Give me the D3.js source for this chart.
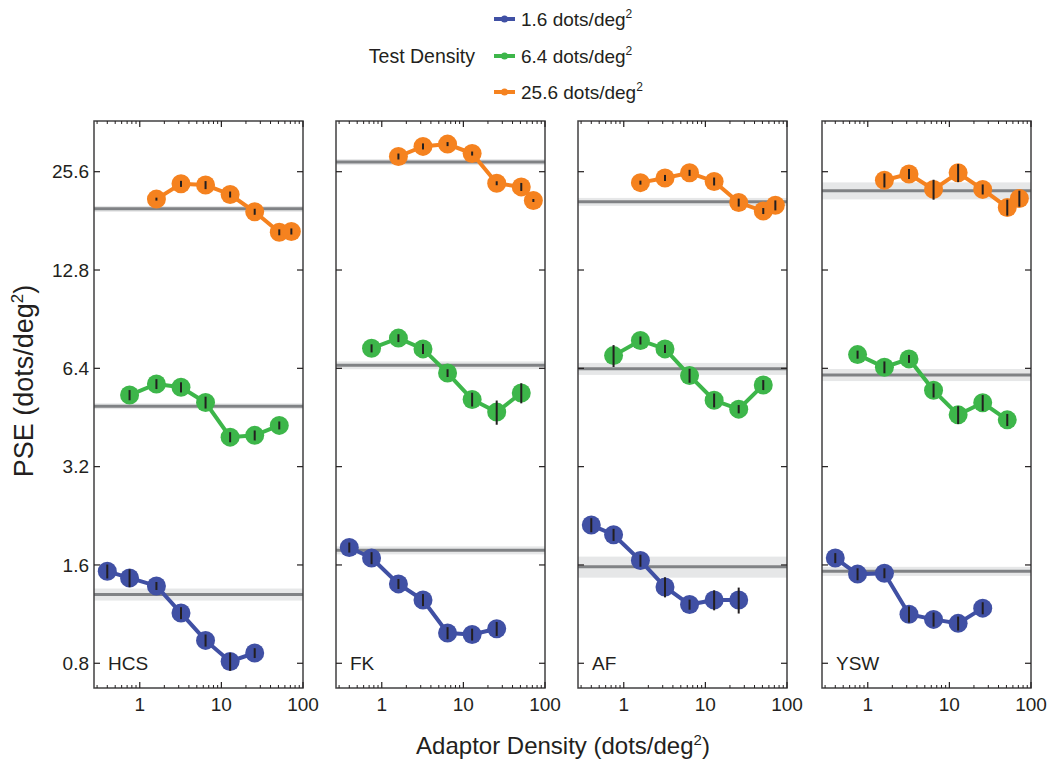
<!DOCTYPE html>
<html>
<head>
<meta charset="utf-8">
<script src="https://cdn.jsdelivr.net/npm/d3@7"></script>
<style>
  body { margin: 0; background: #fff; }
  svg text { font-family: "Liberation Sans", Arial, sans-serif; fill: #231f20; }
</style>
</head>
<body>
<div id="chart"></div>
<script>
// subjects, one panel each
var subjects = ["HCS", "FK", "AF", "YSW"];
var seriesNames = ["1.6", "6.4", "25.6"];
var seriesColors = ["#4050a4", "#3db64a", "#f5821f"];

// adaptor densities used for each test density
var adaptorBlue = [0.4, 0.75, 1.6, 3.2, 6.4, 12.8, 25.6];
var adaptorGreen = [0.75, 1.6, 3.2, 6.4, 12.8, 25.6, 51.2];
var adaptorOrange = [1.6, 3.2, 6.4, 12.8, 25.6, 51.2, 72];

// PSE values, per subject
var pseBlue = [
  [1.53, 1.46, 1.38, 1.14, 0.94, 0.81, 0.86],
  [1.81, 1.68, 1.40, 1.25, 0.99, 0.98, 1.02],
  [2.12, 1.98, 1.65, 1.37, 1.21, 1.25, 1.25],
  [1.68, 1.50, 1.51, 1.13, 1.09, 1.06, 1.18]
];
var pseGreen = [
  [5.30, 5.73, 5.60, 5.03, 3.94, 3.99, 4.28],
  [7.37, 7.92, 7.34, 6.19, 5.14, 4.70, 5.38],
  [7.00, 7.79, 7.34, 6.08, 5.11, 4.80, 5.69],
  [7.05, 6.45, 6.84, 5.48, 4.61, 5.02, 4.45]
];
var pseOrange = [
  [21.1, 23.5, 23.3, 21.8, 19.3, 16.7, 16.8],
  [28.5, 30.6, 31.1, 29.1, 23.6, 23.0, 20.9],
  [23.7, 24.5, 25.4, 23.9, 20.6, 19.4, 20.2],
  [24.1, 25.2, 22.6, 25.4, 22.6, 19.9, 21.2]
];

// error bar half-lengths (dots/deg2)
var errBlue = [
  [0.075, 0.092, 0.039, 0.048, 0.040, 0.051, 0.030],
  [0.064, 0.071, 0.049, 0.053, 0.042, 0.041, 0.050],
  [0.105, 0.084, 0.070, 0.097, 0.043, 0.088, 0.114],
  [0.059, 0.063, 0.053, 0.064, 0.054, 0.052, 0.050]
];
var errGreen = [
  [0.19, 0.20, 0.20, 0.21, 0.14, 0.14, 0.12],
  [0.21, 0.22, 0.26, 0.17, 0.25, 0.40, 0.38],
  [0.54, 0.22, 0.21, 0.30, 0.25, 0.14, 0.20],
  [0.20, 0.27, 0.19, 0.27, 0.29, 0.28, 0.19]
];
var errOrange = [
  [0.22, 0.50, 0.66, 0.46, 0.41, 0.35, 0.36],
  [0.60, 0.65, 0.44, 0.41, 0.33, 0.65, 0.22],
  [0.33, 0.52, 0.54, 0.67, 0.58, 0.41, 0.71],
  [1.19, 0.89, 1.59, 1.61, 0.80, 1.12, 1.20]
];

// baseline PSE (no adaptation) and its band half-width, per subject [blue, green, orange]
var baseline = [
  [1.30, 4.90, 19.7],
  [1.774, 6.54, 27.4],
  [1.58, 6.38, 20.7],
  [1.53, 6.11, 22.4]
];
var baselineBand = [
  [0.055, 0.10, 0.41],
  [0.05, 0.18, 0.58],
  [0.117, 0.27, 0.58],
  [0.049, 0.26, 1.34]
];

var yTicks = [0.8, 1.6, 3.2, 6.4, 12.8, 25.6];
var xTickLabels = [1, 10, 100];

var width = 1047, height = 762;
var panelLefts = [94, 336, 578, 822];
var panelW = 209, panelTop = 121, panelH = 567;

var svg = d3.select("#chart").append("svg")
  .attr("width", width)
  .attr("height", height);

var x = d3.scaleLog().domain([0.275, 100]).range([0, panelW]);
var y = d3.scaleLog().domain([0.672, 36.6]).range([panelH, 0]);

var minorTicks = [];
[0.1, 1, 10].forEach(function (dec) {
  for (var k = 2; k <= 9; k++) {
    var v = dec * k;
    if (v >= 0.275 && v <= 100) minorTicks.push(v);
  }
});
var majorTicks = [1, 10, 100];

subjects.forEach(function (name, p) {
  var g = svg.append("g")
    .attr("transform", "translate(" + panelLefts[p] + "," + panelTop + ")");

  // baseline bands + lines
  for (var s = 0; s < 3; s++) {
    g.append("rect")
      .attr("x", 0)
      .attr("width", panelW)
      .attr("y", y(baseline[p][s] + baselineBand[p][s]))
      .attr("height", y(baseline[p][s] - baselineBand[p][s]) - y(baseline[p][s] + baselineBand[p][s]))
      .style("fill", "#e6e7e8");
    g.append("line")
      .attr("x1", 0).attr("x2", panelW)
      .attr("y1", y(baseline[p][s])).attr("y2", y(baseline[p][s]))
      .style("stroke", "#808285")
      .style("stroke-width", 3);
  }

  var series = [
    { xs: adaptorBlue, ys: pseBlue[p], es: errBlue[p], c: seriesColors[0] },
    { xs: adaptorGreen, ys: pseGreen[p], es: errGreen[p], c: seriesColors[1] },
    { xs: adaptorOrange, ys: pseOrange[p], es: errOrange[p], c: seriesColors[2] }
  ];

  series.forEach(function (sr) {
    var pts = sr.xs.map(function (d, i) { return { x: d, y: sr.ys[i], e: sr.es[i] }; });
    var line = d3.line()
      .x(function (d) { return x(d.x); })
      .y(function (d) { return y(d.y); });
    g.append("path")
      .datum(pts)
      .attr("d", line)
      .style("fill", "none")
      .style("stroke", sr.c)
      .style("stroke-width", 4);
    g.selectAll(null)
      .data(pts)
      .enter().append("circle")
      .attr("cx", function (d) { return x(d.x); })
      .attr("cy", function (d) { return y(d.y); })
      .attr("r", 9.5)
      .style("fill", sr.c);
    g.selectAll(null)
      .data(pts)
      .enter().append("line")
      .attr("x1", function (d) { return x(d.x); })
      .attr("x2", function (d) { return x(d.x); })
      .attr("y1", function (d) { return y(d.y + d.e); })
      .attr("y2", function (d) { return y(d.y - d.e); })
      .style("stroke", "#231f20")
      .style("stroke-width", 2);
  });

  // frame
  g.append("rect")
    .attr("width", panelW)
    .attr("height", panelH)
    .style("fill", "none")
    .style("stroke", "#414042")
    .style("stroke-width", 1.5);

  // y ticks inside on both sides
  yTicks.forEach(function (t) {
    g.append("line").attr("x1", 0).attr("x2", 6).attr("y1", y(t)).attr("y2", y(t))
      .style("stroke", "#231f20").style("stroke-width", 1.2);
    g.append("line").attr("x1", panelW - 6).attr("x2", panelW).attr("y1", y(t)).attr("y2", y(t))
      .style("stroke", "#231f20").style("stroke-width", 1.2);
    if (p == 0) {
      g.append("text")
        .attr("x", -5)
        .attr("y", y(t))
        .attr("dy", "0.35em")
        .attr("text-anchor", "end")
        .style("font-size", "19px")
        .text(t);
    }
  });

  // x ticks inside, top and bottom
  minorTicks.forEach(function (t) {
    g.append("line").attr("x1", x(t)).attr("x2", x(t)).attr("y1", panelH).attr("y2", panelH - 3)
      .style("stroke", "#231f20").style("stroke-width", 1);
    g.append("line").attr("x1", x(t)).attr("x2", x(t)).attr("y1", 0).attr("y2", 3)
      .style("stroke", "#231f20").style("stroke-width", 1);
  });
  majorTicks.forEach(function (t) {
    g.append("line").attr("x1", x(t)).attr("x2", x(t)).attr("y1", panelH).attr("y2", panelH - 6)
      .style("stroke", "#231f20").style("stroke-width", 1.2);
    g.append("line").attr("x1", x(t)).attr("x2", x(t)).attr("y1", 0).attr("y2", 6)
      .style("stroke", "#231f20").style("stroke-width", 1.2);
  });
  xTickLabels.forEach(function (t) {
    g.append("text")
      .attr("x", x(t))
      .attr("y", panelH + 23)
      .attr("text-anchor", "middle")
      .style("font-size", "19px")
      .text(t);
  });

  g.append("text")
    .attr("x", 14)
    .attr("y", y(0.8) + 7)
    .style("font-size", "19px")
    .text(name);
});

// axis titles
var yl = svg.append("text")
  .attr("transform", "translate(33,381) rotate(-90)")
  .attr("text-anchor", "middle")
  .style("font-size", "27px");
yl.append("tspan").text("PSE (dots/deg");
yl.append("tspan").attr("dy", -10).style("font-size", "17px").text("2");
yl.append("tspan").attr("dy", 10).text(")");

var xl = svg.append("text")
  .attr("x", 563)
  .attr("y", 754)
  .attr("text-anchor", "middle")
  .style("font-size", "24px");
xl.append("tspan").text("Adaptor Density (dots/deg");
xl.append("tspan").attr("dy", -9).style("font-size", "15px").text("2");
xl.append("tspan").attr("dy", 9).text(")");

// legend
var legend = svg.append("g");
legend.append("text")
  .attr("x", 475)
  .attr("y", 63)
  .attr("text-anchor", "end")
  .style("font-size", "19.5px")
  .text("Test Density");
var legendY = [19, 56, 92];
seriesNames.forEach(function (n, i) {
  var ly = legendY[i];
  legend.append("line")
    .attr("x1", 494).attr("x2", 515).attr("y1", ly).attr("y2", ly)
    .style("stroke", seriesColors[i]).style("stroke-width", 4);
  legend.append("circle")
    .attr("cx", 504.5).attr("cy", ly).attr("r", 3.5)
    .style("fill", seriesColors[i]);
  var t = legend.append("text")
    .attr("x", 521)
    .attr("y", ly + 7)
    .style("font-size", "19px");
  t.append("tspan").text(n + " dots/deg");
  t.append("tspan").attr("dy", -8).style("font-size", "12px").text("2");
});
</script>
</body>
</html>
